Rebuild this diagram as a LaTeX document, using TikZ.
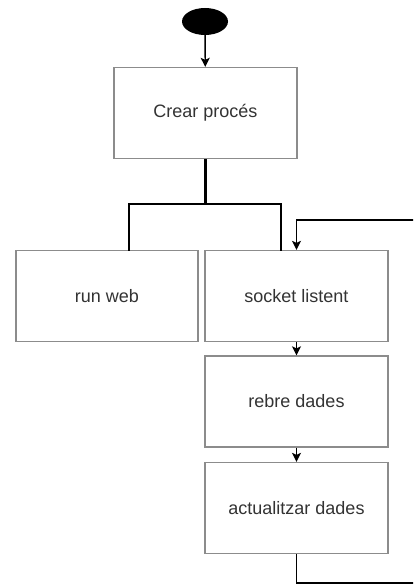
\documentclass[tikz,border=0pt]{standalone}
\usepackage{fontspec}
\setmainfont{Liberation Sans}
\usetikzlibrary{arrows.meta,calc,shapes.geometric}
\definecolor{boxline}{HTML}{8C8C8C}
\definecolor{boxtext}{HTML}{333333}
\tikzset{
  stepbox/.style={draw=boxline, line width=1.3pt, fill=white, minimum width=183pt,
    minimum height=91pt, inner sep=0pt, text=boxtext, font=\fontsize{18}{21}\selectfont},
  flow/.style={draw=black, line width=1.4pt, -{Stealth[length=9pt,width=9pt,inset=2pt]}},
  fork/.style={draw=black, line width=2.6pt}
}
\begin{document}
\begin{tikzpicture}[x=1pt,y=-1pt]%
%
\clip (0,0) rectangle (413,586);
\def\colL{107}
\def\colR{296.5}
%
\node[ellipse, fill=black, minimum width=46pt, minimum height=27pt, inner sep=0pt] (start) at (205,21.5) {};
\node[stepbox] (crear) at (205.5,113) {Crear procés};
\node[stepbox, minimum width=182pt] (web) at (\colL,296) {run web};
\node[stepbox] (socket) at (\colR,296) {socket listent};
\node[stepbox] (rebre) at (\colR,401.5) {rebre dades};
\node[stepbox] (act) at (\colR,508) {actualitzar dades};
%
\coordinate (forkL) at (129,204);
\coordinate (forkR) at (281,204);
\coordinate (loopB) at (\colR,583);
\coordinate (loopT) at (\colR,220);
%
\draw[flow] (start) -- (crear);
%
\draw[fork] (crear.south) -- (crear.south |- forkL);
\draw[fork, line cap=rect] (forkL |- web.north) -- (forkL) -- (forkR) -- (forkR |- socket.north);
%
\draw[flow] (socket) -- (rebre);
\draw[flow] (rebre) -- (act);
%
\draw[flow, line width=1.3pt] (act.south) -- (loopB) -- ++(140,0) |- (loopT) -- (socket.north);
%
\end{tikzpicture}
\end{document}
